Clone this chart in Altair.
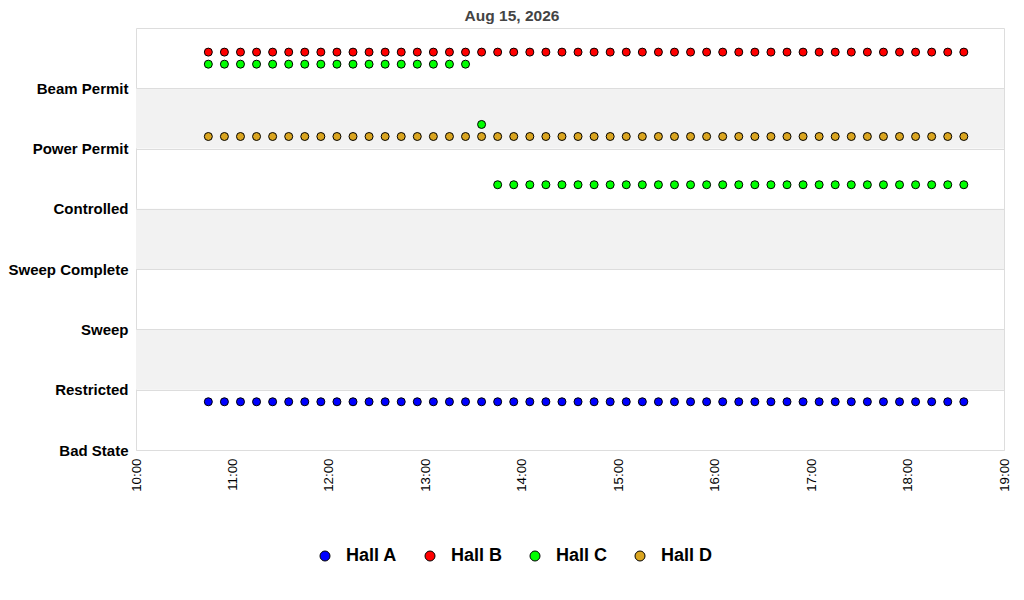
import pandas as pd
import altair as alt

# state levels, bottom to top
states = ["Bad State", "Restricted", "Sweep", "Sweep Complete",
          "Controlled", "Power Permit", "Beam Permit"]
band_starts = [1, 3, 5]

halls = ["Hall A", "Hall B", "Hall C", "Hall D"]
hall_colors = ["#0000FF", "#FF0000", "#00FF00", "#DAA520"]

# one sample every 10 minutes, 10:45 -> 18:35
times = pd.date_range("2026-08-15 10:45", periods=48, freq="10min")
hall_a = [0.8] * 48
hall_b = [6.6] * 48
hall_c = [6.4] * 17 + [5.4] + [4.4] * 30
hall_d = [5.2] * 48

hour_ticks = list(range(10, 20))

rows = []
for name, vals in zip(halls, [hall_a, hall_b, hall_c, hall_d]):
    for t, v in zip(times, vals):
        rows.append({"time": t, "level": v, "hall": name})
df = pd.DataFrame(rows)

bands = pd.DataFrame({"lo": band_starts, "hi": [b + 1 for b in band_starts]})

label_expr = "[" + ",".join(f"'{s}'" for s in states) + "][datum.value]"

y_scale = alt.Scale(domain=[0, 7], nice=False, zero=False)
y_axis = alt.Axis(
    values=list(range(len(states))), labelExpr=label_expr,
    labelFontSize=15, labelFontWeight="bold", labelColor="black",
    labelPadding=8, ticks=False, domain=False, grid=True,
    gridColor="#DDDDDD", zindex=1, title=None,
)
x_scale = alt.Scale(
    domain=[alt.DateTime(year=2026, month=8, date=15, hours=10),
            alt.DateTime(year=2026, month=8, date=15, hours=19)],
    nice=False,
)

shade = alt.Chart(bands).mark_rect(color="#F2F2F2").encode(
    y=alt.Y("lo:Q", scale=y_scale, axis=y_axis),
    y2="hi:Q",
)

points = alt.Chart(df).mark_circle(
    size=64, opacity=1, stroke="black", strokeWidth=1
).encode(
    x=alt.X("time:T", scale=x_scale, title=None).axis(
        values=[alt.DateTime(year=2026, month=8, date=15, hours=h) for h in hour_ticks],
        format="%H:%M", labelAngle=270, labelFontSize=13.3, labelColor="black",
        labelPadding=8, ticks=False, domain=False, grid=False,
    ),
    y=alt.Y("level:Q", scale=y_scale, axis=y_axis),
    color=alt.Color("hall:N", scale=alt.Scale(domain=halls, range=hall_colors),
                    title=None).legend(
        orient="none", legendX=180, legendY=519, direction="horizontal",
        symbolType="circle", symbolSize=100, symbolStrokeColor="black",
        symbolStrokeWidth=1, labelFontSize=18, labelFontWeight="bold",
        labelColor="black", labelOffset=12, columnPadding=23,
    ),
)

chart = alt.layer(shade, points).properties(
    width=868,
    height=422,
    autosize="none",
    padding={"left": 128, "top": 20, "right": 12, "bottom": 130},
    title=alt.TitleParams("Aug 15, 2026", fontSize=15.5, fontWeight="bold",
                          color="#444444", dx=-58, offset=4),
).configure(
    font="Liberation Sans",
).configure_view(
    stroke="#DDDDDD",
)

chart.save("out.html", embed_options={"renderer": "svg", "actions": False})
